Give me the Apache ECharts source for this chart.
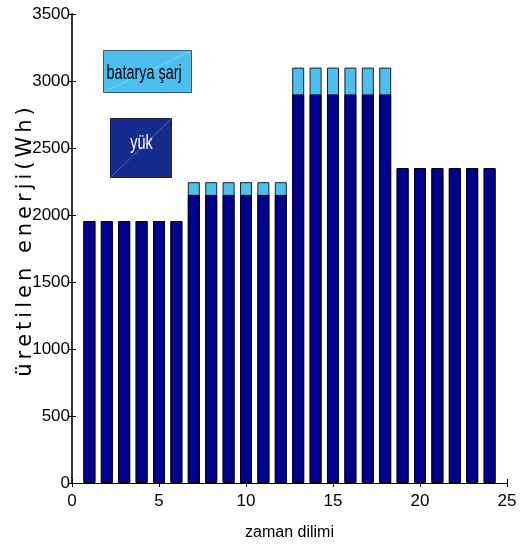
<!DOCTYPE html>
<html>
<head>
<meta charset="utf-8">
<script src="https://cdn.jsdelivr.net/npm/echarts@6/dist/echarts.min.js"></script>
<style>
  html, body { margin: 0; padding: 0; background: #fff; }
  #chart { width: 529px; height: 550px; }
</style>
</head>
<body>
<div id="chart"></div>
<script>
// zaman dilimi (x) ve değerler
const slots = [1, 2, 3, 4, 5, 6, 7, 8, 9, 10, 11, 12, 13, 14, 15, 16, 17, 18, 19, 20, 21, 22, 23, 24];
const yuk = [1955, 1955, 1955, 1955, 1955, 1955, 2150, 2150, 2150, 2150, 2150, 2150,
  2900, 2900, 2900, 2900, 2900, 2900, 2350, 2350, 2350, 2350, 2350, 2350];
const bataryaSarj = [0, 0, 0, 0, 0, 0, 95, 95, 95, 95, 95, 95,
  200, 200, 200, 200, 200, 200, 0, 0, 0, 0, 0, 0];
const xTicks = [0, 5, 10, 15, 20, 25];
const yTicks = [0, 500, 1000, 1500, 2000, 2500, 3000, 3500];
const yTitle = "üretilen enerji(Wh)";

const font = "'Liberation Sans', Arial, sans-serif";
const darkBlue = "#00008f";
const lightBlue = "#4dbfee";

// yük + batarya şarj -> üst uç (açık mavi çubuk arkada, koyu önde)
const toplam = yuk.map((v, i) => v + bataryaSarj[i]);

// harf aralığı için her karakteri ayrı rich parçası yap
const spaced = yTitle.split("").map(c => "{s|" + c + "}").join("");

const chart = echarts.init(document.getElementById("chart"));

const axisCommon = {
  type: "value",
  axisLine: { show: true, lineStyle: { color: "#000", width: 1 } },
  axisTick: { show: true, inside: true, length: 4, lineStyle: { color: "#000" } },
  splitLine: { show: false },
};

const option = {
  backgroundColor: "#fff",
  animation: false,
  grid: { left: 72, right: 22, top: 14, bottom: 67, outerBoundsMode: "none", containLabel: false },
  xAxis: [
    Object.assign({}, axisCommon, {
      min: xTicks[0],
      max: xTicks[xTicks.length - 1],
      interval: 5,
      name: "zaman dilimi",
      nameLocation: "middle",
      nameGap: 42,
      nameTextStyle: { fontFamily: font, fontSize: 16, color: "#000" },
      axisLabel: { fontFamily: font, fontSize: 17, color: "#000", margin: 10 },
    }),
    Object.assign({}, axisCommon, {
      position: "top",
      min: 0,
      max: 25,
      interval: 5,
      axisLabel: { show: false },
    }),
  ],
  yAxis: [
    Object.assign({}, axisCommon, {
      min: yTicks[0],
      max: yTicks[yTicks.length - 1],
      interval: 500,
      axisLabel: { fontFamily: font, fontSize: 17, color: "#000", margin: 2, formatter: v => String(v) },
    }),
    Object.assign({}, axisCommon, {
      position: "right",
      min: 0,
      max: 3500,
      interval: 500,
      axisLine: { show: true, lineStyle: { color: "#333", width: 2 } },
      axisLabel: { show: false },
    }),
  ],
  series: [
    {
      name: "batarya şarj",
      type: "bar",
      barWidth: 12,
      barGap: "-100%",
      z: 2,
      itemStyle: { color: lightBlue, borderColor: "#222", borderWidth: 1 },
      data: slots.map((s, i) => [s, toplam[i]]),
    },
    {
      name: "yük",
      type: "bar",
      barWidth: 12,
      barGap: "-100%",
      z: 3,
      itemStyle: { color: darkBlue, borderColor: "#000", borderWidth: 1 },
      data: slots.map((s, i) => [s, yuk[i]]),
    },
  ],
  graphic: [
    {
      type: "text",
      x: 26,
      y: 242,
      rotation: Math.PI / 2,
      style: {
        text: spaced,
        align: "center",
        verticalAlign: "middle",
        rich: {
          s: { fontFamily: "'DejaVu Sans', sans-serif", fontSize: 21, fill: "#000", padding: [0, 2] },
        },
      },
    },
    {
      type: "group",
      left: 102,
      top: 49,
      children: [
        { type: "rect", shape: { x: 0, y: 0, width: 88, height: 42 },
          style: { fill: lightBlue, stroke: "#555", lineWidth: 1 } },
        { type: "line", shape: { x1: 1, y1: 41, x2: 87, y2: 1 },
          style: { stroke: "#9fd9f4", lineWidth: 0.6 } },
        { type: "text", x: 3, y: 23, scaleX: 0.72,
          style: { text: "batarya şarj", fill: "#000", font: "20px " + font, verticalAlign: "middle" } },
      ],
    },
    {
      type: "group",
      left: 109,
      top: 117,
      children: [
        { type: "rect", shape: { x: 0, y: 0, width: 61, height: 59 },
          style: { fill: "#162c8c", stroke: "#222", lineWidth: 1 } },
        { type: "line", shape: { x1: 1, y1: 58, x2: 60, y2: 1 },
          style: { stroke: "#6f86c8", lineWidth: 0.6 } },
        { type: "text", x: 31, y: 25, scaleX: 0.72,
          style: { text: "yük", fill: "#fff", font: "20px " + font, align: "center", verticalAlign: "middle" } },
      ],
    },
  ],
};

chart.setOption(option);
</script>
</body>
</html>
